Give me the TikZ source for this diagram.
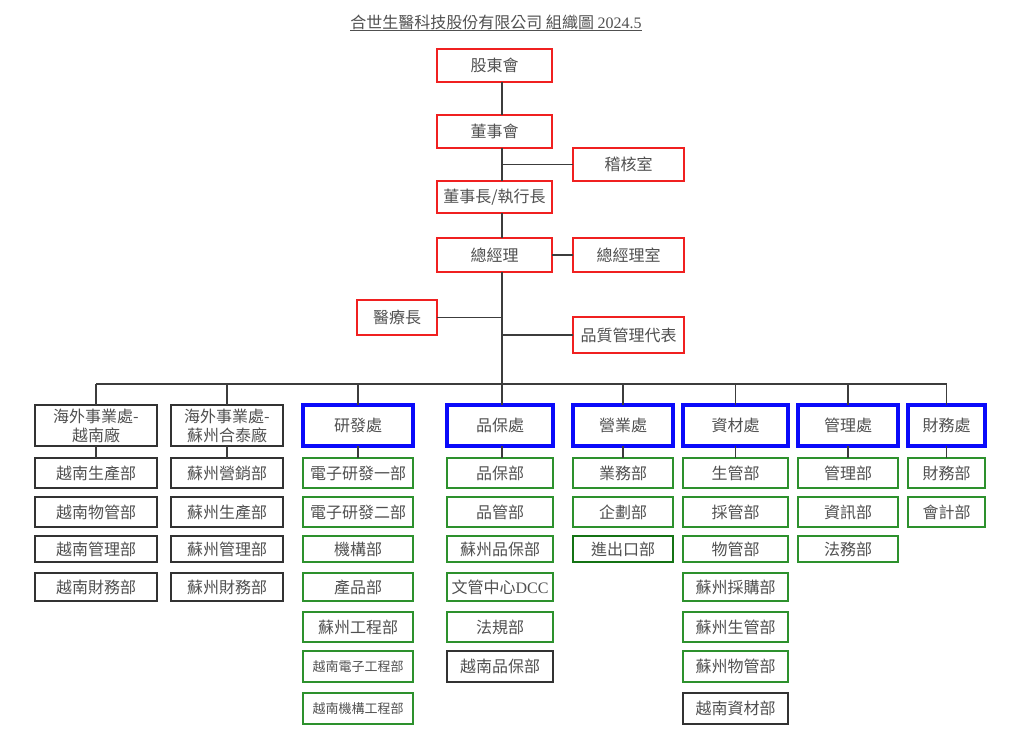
\documentclass[tikz,border=0pt]{standalone}
\usepackage{fontspec}
\setmainfont{Noto Sans CJK TC}
\newfontfamily\lat{Liberation Serif}
\definecolor{redc}{RGB}{240,32,32}
\definecolor{bluec}{RGB}{10,10,250}
\definecolor{greenc}{RGB}{45,145,45}
\definecolor{dgreenc}{RGB}{20,115,20}
\definecolor{blackc}{RGB}{50,50,50}
\definecolor{linec}{RGB}{60,60,60}
\definecolor{txt}{RGB}{80,80,80}
\tikzset{
  bx/.style={draw, inner sep=0pt, outer sep=0pt, text=txt, font=\fontsize{16}{19}\selectfont, align=center},
  rbox/.style={bx, draw=redc, line width=2.2pt},
  bbox/.style={bx, draw=bluec, line width=3.5pt},
  gbox/.style={bx, draw=greenc, line width=2.2pt},
  dgbox/.style={bx, draw=dgreenc, line width=2.2pt},
  kbox/.style={bx, draw=blackc, line width=2.2pt},
  sz/.style 2 args={minimum width=#1pt, minimum height=#2pt},
  sm/.style={font=\fontsize{13}{15}\selectfont},
  conn/.style={draw=linec, line width=1.3pt},
}
\begin{document}
\begin{tikzpicture}[x=1pt,y=-1pt]
\useasboundingbox (0,0) rectangle (1024,738);
% title
\node[inner sep=0pt, text=txt, font=\fontsize{16}{19}\selectfont] (title) at (496,22) {合世生醫科技股份有限公司 組織圖 {\lat 2024.5}};
\draw[draw=txt, line width=1pt] ([yshift=-0.5pt]title.south west) -- ([yshift=-0.5pt]title.south east);
% top
\node[rbox, sz={115}{33}] (gd) at (494.5,65.5) {股東會};
\node[rbox, sz={115}{33}] (ds) at (494.5,131.5) {董事會};
\node[rbox, sz={111}{33}] (jh) at (628.5,164.5) {稽核室};
\node[rbox, sz={115}{32}] (dsz) at (494.5,197) {董事長/執行長};
\node[rbox, sz={115}{34}] (zjl) at (494.5,255) {總經理};
\node[rbox, sz={111}{34}] (zjs) at (628.5,255) {總經理室};
\node[rbox, sz={80}{35}] (yl) at (397,317.5) {醫療長};
\node[rbox, sz={111}{36}] (pz) at (628.5,335) {品質管理代表};
\coordinate (trunk) at (502,0);
\coordinate (bus) at (0,384);
% headers
\node[kbox, sz={122}{41}] (h1) at (96,425.5) {海外事業處-\\越南廠};
\node[kbox, sz={112}{41}] (h2) at (227,425.5) {海外事業處-\\蘇州合泰廠};
\node[bbox, sz={110}{41}] (h3) at (358,425.5) {研發處};
\node[bbox, sz={106}{41}] (h4) at (500,425.5) {品保處};
\node[bbox, sz={100}{41}] (h5) at (623,425.5) {營業處};
\node[bbox, sz={105}{41}] (h6) at (735.5,425.5) {資材處};
\node[bbox, sz={100}{41}] (h7) at (848,425.5) {管理處};
\node[bbox, sz={77}{41}] (h8) at (946.5,425.5) {財務處};
% column 1
\node[kbox, sz={122}{30}] (a1) at (96,473) {越南生產部};
\node[kbox, sz={122}{30}] (a2) at (96,512) {越南物管部};
\node[kbox, sz={122}{26}] (a3) at (96,549) {越南管理部};
\node[kbox, sz={122}{28}] (a4) at (96,587) {越南財務部};
% column 2
\node[kbox, sz={112}{30}] (b1) at (227,473) {蘇州營銷部};
\node[kbox, sz={112}{30}] (b2) at (227,512) {蘇州生產部};
\node[kbox, sz={112}{26}] (b3) at (227,549) {蘇州管理部};
\node[kbox, sz={112}{28}] (b4) at (227,587) {蘇州財務部};
% column 3
\node[gbox, sz={110}{30}] (c1) at (358,473) {電子研發一部};
\node[gbox, sz={110}{30}] (c2) at (358,512) {電子研發二部};
\node[gbox, sz={110}{26}] (c3) at (358,549) {機構部};
\node[gbox, sz={110}{28}] (c4) at (358,587) {產品部};
\node[gbox, sz={110}{30}] (c5) at (358,627) {蘇州工程部};
\node[gbox, sm, sz={110}{31}] (c6) at (358,666.5) {越南電子工程部};
\node[gbox, sm, sz={110}{31}] (c7) at (358,708.5) {越南機構工程部};
% column 4
\node[gbox, sz={106}{30}] (d1) at (500,473) {品保部};
\node[gbox, sz={106}{30}] (d2) at (500,512) {品管部};
\node[gbox, sz={106}{26}] (d3) at (500,549) {蘇州品保部};
\node[gbox, sz={106}{28}] (d4) at (500,587) {文管中心{\lat DCC}};
\node[gbox, sz={106}{30}] (d5) at (500,627) {法規部};
\node[kbox, sz={106}{31}] (d6) at (500,666.5) {越南品保部};
% column 5
\node[gbox, sz={100}{30}] (e1) at (623,473) {業務部};
\node[gbox, sz={100}{30}] (e2) at (623,512) {企劃部};
\node[dgbox, sz={100}{26}] (e3) at (623,549) {進出口部};
% column 6
\node[gbox, sz={105}{30}] (f1) at (735.5,473) {生管部};
\node[gbox, sz={105}{30}] (f2) at (735.5,512) {採管部};
\node[gbox, sz={105}{26}] (f3) at (735.5,549) {物管部};
\node[gbox, sz={105}{28}] (f4) at (735.5,587) {蘇州採購部};
\node[gbox, sz={105}{30}] (f5) at (735.5,627) {蘇州生管部};
\node[gbox, sz={105}{31}] (f6) at (735.5,666.5) {蘇州物管部};
\node[kbox, sz={105}{31}] (f7) at (735.5,708.5) {越南資材部};
% column 7
\node[gbox, sz={100}{30}] (g1) at (848,473) {管理部};
\node[gbox, sz={100}{30}] (g2) at (848,512) {資訊部};
\node[gbox, sz={100}{26}] (g3) at (848,549) {法務部};
% column 8
\node[gbox, sz={77}{30}] (k1) at (946.5,473) {財務部};
\node[gbox, sz={77}{30}] (k2) at (946.5,512) {會計部};
% connectors top
\draw[conn] (gd.south -| trunk) -- (ds.north -| trunk);
\draw[conn] (ds.south -| trunk) -- (dsz.north -| trunk);
\draw[conn] (dsz.south -| trunk) -- (zjl.north -| trunk);
\draw[conn] (zjl.south -| trunk) -- (h4.north -| trunk);
\draw[conn] (jh.west -| trunk) -- (jh.west);
\draw[conn] (zjl.east) -- (zjs.west);
\draw[conn] (yl.east) -- (yl.east -| trunk);
\draw[conn] (pz.west -| trunk) -- (pz.west);
% bus
\draw[conn] (h1.north |- bus) -- (h8.north |- bus);
\foreach \h in {h1,h2,h3,h5,h6,h7,h8} {\draw[conn] (\h.north) -- (\h.north |- bus);}
% header to first child
\draw[conn] (h1.south) -- (a1.north);
\draw[conn] (h2.south) -- (b1.north);
\draw[conn] (h3.south) -- (c1.north);
\draw[conn] (h4.south -| trunk) -- (d1.north -| trunk);
\draw[conn] (h5.south) -- (e1.north);
\draw[conn] (h6.south) -- (f1.north);
\draw[conn] (h7.south) -- (g1.north);
\draw[conn] (h8.south) -- (k1.north);
\end{tikzpicture}
\end{document}
